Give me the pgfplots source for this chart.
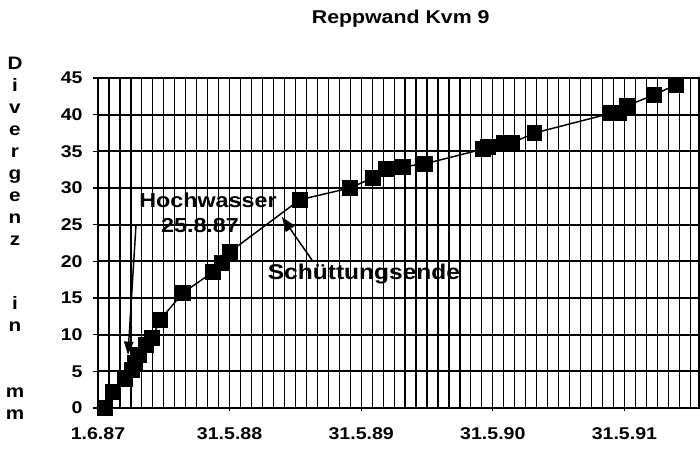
\documentclass[border=0pt]{standalone}
\usepackage{fontspec}
\setmainfont{Liberation Sans}[FakeStretch=1.15]
\usepackage{pgfplots}
\usepackage{pgfplotstable}
\pgfplotsset{compat=1.18}
\usetikzlibrary{arrows.meta}

\pgfplotstableread{
x y
0.64 0
1.37 2.2
2.46 4.0
3.10 5.2
3.40 6.1
3.75 7.2
4.40 8.6
4.92 9.5
5.65 12.0
7.75 15.7
10.48 18.55
11.30 19.8
12.03 21.3
18.40 28.4
22.97 30.0
25.07 31.4
26.25 32.6
27.80 32.9
29.80 33.3
35.10 35.3
35.55 35.6
37.00 36.2
37.80 36.2
39.80 37.5
46.80 40.2
47.50 40.2
48.20 41.2
50.70 42.7
52.70 44.1
}\datatable

\begin{document}
\begin{tikzpicture}[x=1pt,y=1pt]
\begin{axis}[
  at={(0,0)}, anchor=south west,
  scale only axis, width=450.75pt, height=247.5pt,
  xmin=0, xmax=54.8, ymin=0, ymax=45,
  xtick={0,12,24,36,48},
  xticklabels={1.6.87,31.5.88,31.5.89,31.5.90,31.5.91},
  minor xtick={1,2,...,54},
  ytick={0,5,...,45},
  xmajorgrids, xminorgrids, ymajorgrids,
  major grid style={black, line width=0.9pt},
  minor grid style={black, line width=0.9pt},
  every y tick/.style={black, line width=1pt},
  every x tick/.style={black, line width=1pt},
  y grid style={black, line width=1.4pt},
  major tick length=4pt, minor tick length=0pt,
  xtick align=center, ytick align=outside,
  xtick pos=bottom, ytick pos=left,
  axis line style={black, line width=1.2pt},
  /pgf/number format/assume math mode=true,
  tick label style={font=\bfseries\fontsize{12.75}{15}\selectfont, black},
  xticklabel style={yshift=-9pt},
  yticklabel style={xshift=-4pt},
  clip=false,
]
\addplot[black, line width=1.1pt, mark=square*, mark size=5.4pt,
  mark options={fill=black, draw=black, solid}] table[x=x,y=y] {\datatable};

\draw[-{Triangle[length=10pt,width=7pt]}, line width=1.1pt]
  (axis cs:3.46,24.82) -- (axis cs:2.73,7.23);
\draw[-{Triangle[length=11pt,width=8pt]}, line width=1.1pt]
  (axis cs:19.51,20.18) -- (axis cs:16.77,26.05);

\node[anchor=base, font=\bfseries\fontsize{15.2}{17}\selectfont] at (axis cs:10.03,27.41) {Hochwasser};
\node[anchor=base, font=\bfseries\fontsize{15.2}{17}\selectfont] at (axis cs:9.30,24.0) {25.8.87};
\node[anchor=base, font=\bfseries\fontsize{16}{18}\selectfont] at (axis cs:24.25,17.59) {Schüttungsende};
\node[anchor=base, font=\bfseries\fontsize{13.9}{16}\selectfont] at (axis cs:27.6,52.37) {Reppwand Kvm 9};
\end{axis}
\foreach \l/\yy in {D/64, i/86, v/108, e/130, r/152, g/174, e/196, n/218, z/240, i/304, n/326, m/392, m/414}
  \node[anchor=base, inner sep=0pt, font=\bfseries\fontsize{13.5}{16}\selectfont] at (-62.25, {(408-\yy-5.5)*0.75}) {\l};
\pgfresetboundingbox
\path (-73.5,-32.25) rectangle (451.5,306);
\end{tikzpicture}
\end{document}
